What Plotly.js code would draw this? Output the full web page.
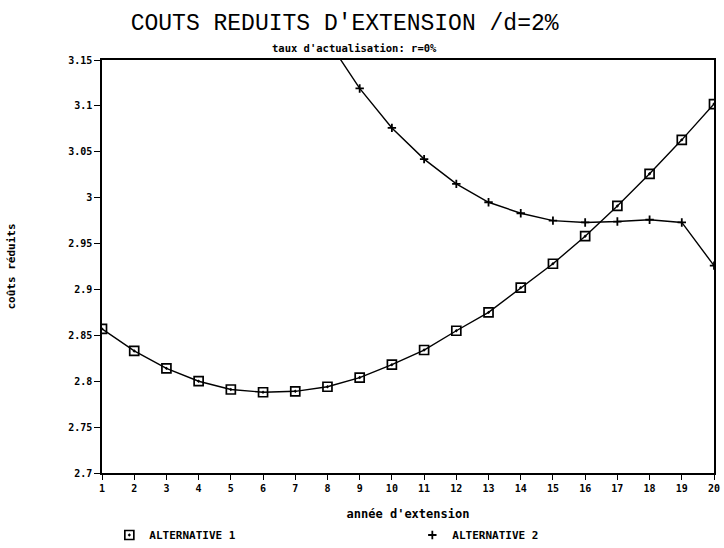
<!DOCTYPE html>
<html>
<head>
<meta charset="utf-8">
<script src="https://cdn.plot.ly/plotly-3.0.1.min.js"></script>
<style>html,body{margin:0;padding:0;background:#fff;}#chart{width:724px;height:548px;}</style>
</head>
<body>
<div id="chart"></div>
<script>
const years = [1,2,3,4,5,6,7,8,9,10,11,12,13,14,15,16,17,18,19,20];
const alt1 = [2.857,2.833,2.814,2.800,2.791,2.788,2.789,2.794,2.804,2.818,2.834,2.855,2.875,2.902,2.928,2.958,2.991,3.026,3.063,3.102];
const years2 = [8,9,10,11,12,13,14,15,16,17,18,19,20];
const alt2 = [3.172,3.119,3.076,3.042,3.015,2.995,2.983,2.975,2.973,2.974,2.976,2.973,2.926];
const yTicks = [2.7,2.75,2.8,2.85,2.9,2.95,3,3.05,3.1,3.15];
const yTickText = ['2.7','2.75','2.8','2.85','2.9','2.95','3','3.05','3.1','3.15'];
const seriesNames = ['ALTERNATIVE 1','ALTERNATIVE 2'];

const mono = 'Liberation Mono, DejaVu Sans Mono, monospace';
const bmono = 'DejaVu Sans Mono, monospace';
const sqMarker = {symbol: 'square-open-dot', size: 9, color: '#000', line: {width: 1.7, color: '#000'}};
const plMarker = {symbol: 'cross-thin-open', size: 6, color: '#000', line: {width: 1.8, color: '#000'}};
const traces = [
  {x: years, y: alt1, name: seriesNames[0], mode: 'lines', type: 'scatter', showlegend: false,
   line: {color: '#000', width: 1.4}},
  {x: years, y: alt1, name: seriesNames[0], mode: 'markers', type: 'scatter', marker: sqMarker},
  {x: years2, y: alt2, name: seriesNames[1], mode: 'lines', type: 'scatter', showlegend: false,
   line: {color: '#000', width: 1.4}},
  {x: years2, y: alt2, name: seriesNames[1], mode: 'markers', type: 'scatter', marker: plMarker}
];
const layout = {
  width: 724, height: 548,
  margin: {l: 102, r: 10, t: 60, b: 75},
  paper_bgcolor: '#fff', plot_bgcolor: '#fff',
  showlegend: true,
  title: {text: "COUTS REDUITS D'EXTENSION /d=2%", font: {family: mono, size: 23, color: '#000'},
          x: 0.476, xanchor: 'center', y: 0.96, yanchor: 'middle'},
  xaxis: {range: [1, 20], tickvals: years, ticktext: years.map(String), automargin: false,
          showgrid: false, zeroline: false, showline: true, mirror: true, linecolor: '#000', linewidth: 1.5,
          ticks: 'outside', ticklen: 5, tickcolor: '#000',
          tickfont: {family: bmono, size: 10, color: '#000', weight: 'bold'},
          title: {text: "année d'extension", font: {family: bmono, size: 12, color: '#000', weight: 'bold'}, standoff: 30}},
  yaxis: {range: [2.7, 3.15], tickvals: yTicks, ticktext: yTickText, automargin: false,
          showgrid: false, zeroline: false, showline: true, mirror: true, linecolor: '#000', linewidth: 1.5,
          ticks: 'outside', ticklen: 6, tickcolor: '#000',
          tickfont: {family: bmono, size: 10, color: '#000', weight: 'bold'},
          title: {text: 'coûts réduits', font: {family: bmono, size: 11, color: '#000', weight: 'bold'}, standoff: 50}},
  legend: {orientation: 'h', xref: 'container', x: 0.151, yref: 'container', y: 0.0237, yanchor: 'middle',
           entrywidth: 258, entrywidthmode: 'pixels',
           font: {family: bmono, size: 11, color: '#000', weight: 'bold'}},
  annotations: [
    {text: "taux d'actualisation: r=0%", xref: 'paper', yref: 'paper', x: 0.413, y: 1.0, yshift: 20,
     showarrow: false, font: {family: bmono, size: 10.5, color: '#000', weight: 'bold'}}
  ]
};
Plotly.newPlot('chart', traces, layout, {displayModeBar: false});
</script>
</body>
</html>
